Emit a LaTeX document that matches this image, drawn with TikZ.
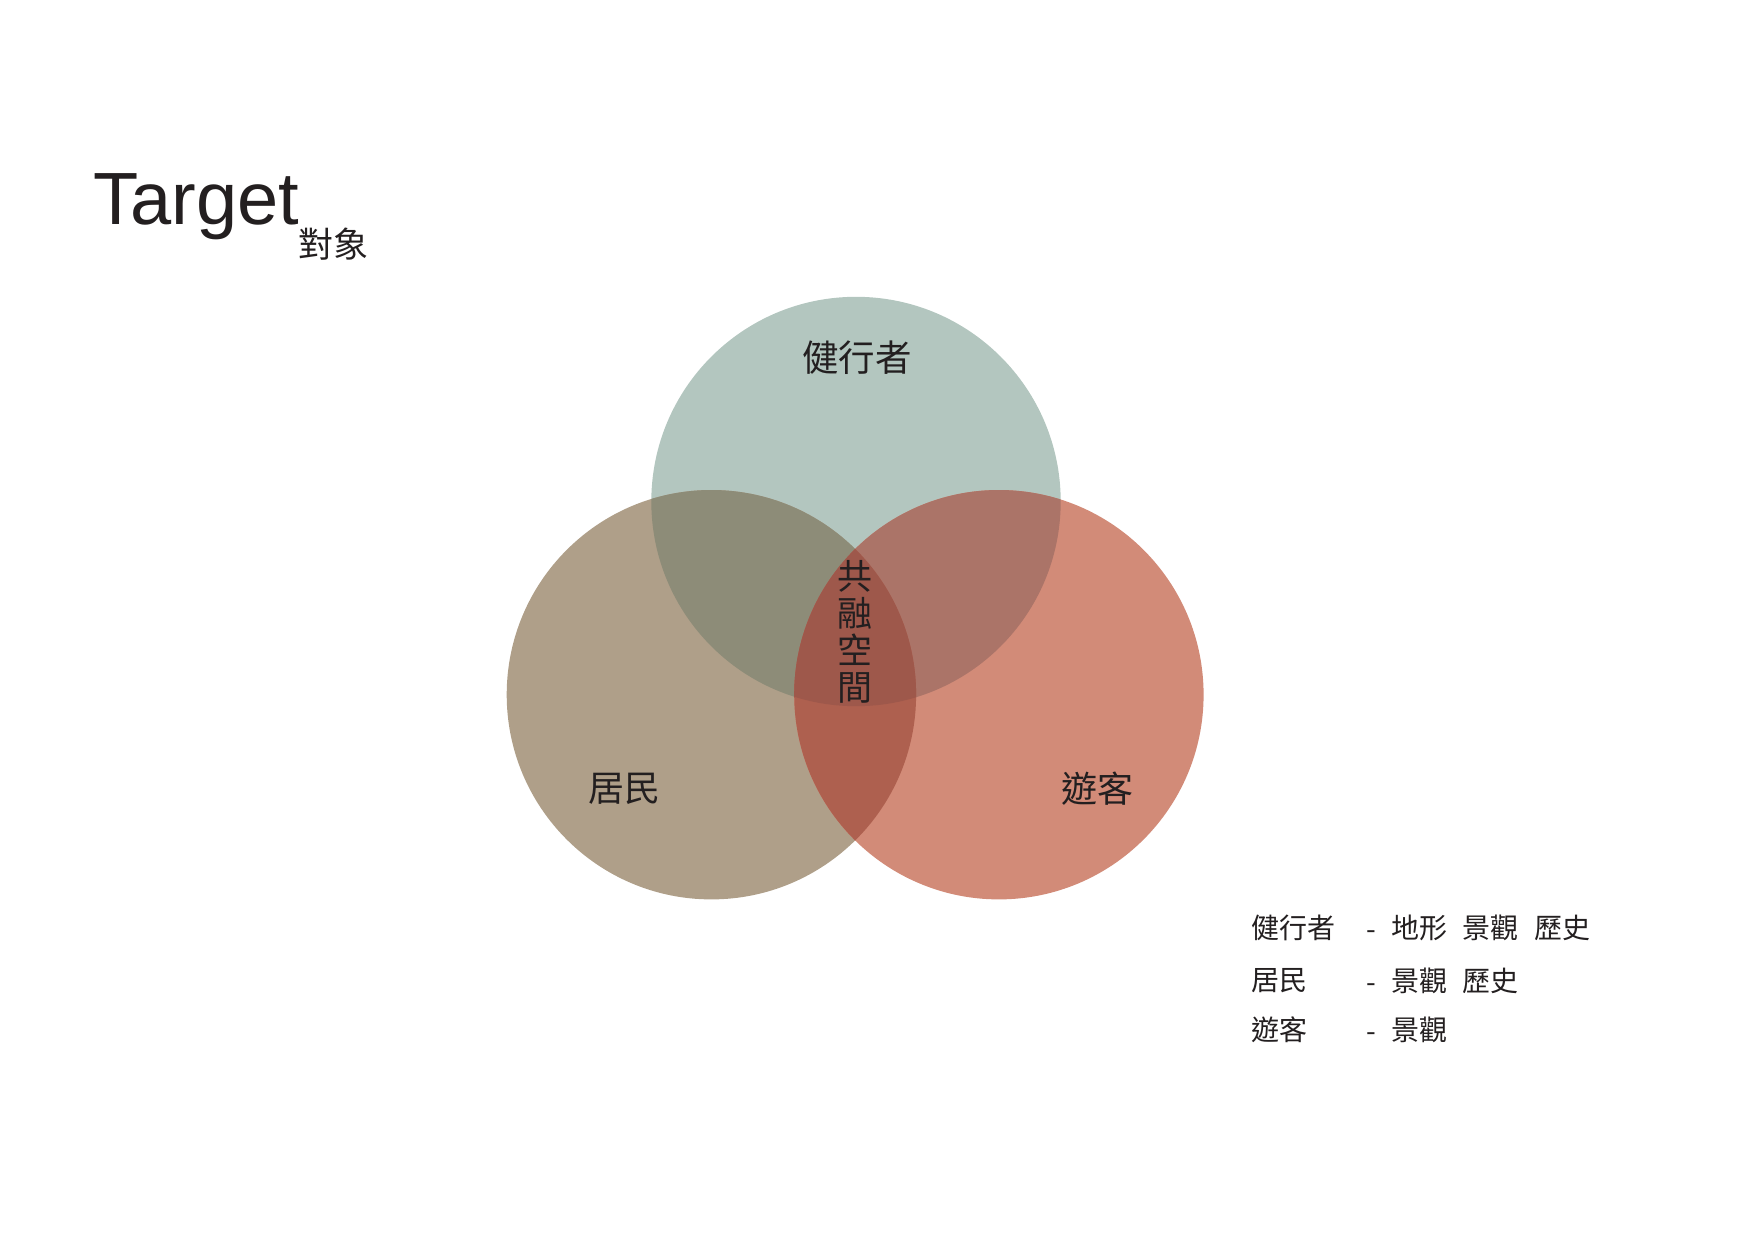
\documentclass[tikz,border=0pt]{standalone}
\usepackage{fontspec}
\setmainfont{Liberation Sans}
\newfontfamily\cjk{Noto Sans CJK TC}
\definecolor{ink}{HTML}{231F20}
\definecolor{cTop}{HTML}{B3C6BF}
\definecolor{cLeft}{HTML}{AF9F89}
\definecolor{cRight}{HTML}{D28B78}
\definecolor{cTL}{HTML}{8D8C78}
\definecolor{cTR}{HTML}{AB7468}
\definecolor{cLR}{HTML}{AE604F}
\definecolor{cTLR}{HTML}{9E584B}
\begin{document}
\begin{tikzpicture}[x=1pt,y=-1pt,
  lbl/.style={inner sep=0pt,text=ink,font=\cjk\fontsize{36.5}{40}\selectfont},
  leg/.style={inner sep=0pt,text=ink,anchor=west,font=\cjk\fontsize{28}{30}\selectfont}]
\useasboundingbox (0,0) rectangle (1754,1241);
\def\R{204.7}
\coordinate (cT) at (856,501.5);
\coordinate (cL) at (711.4,694.7);
\coordinate (cR) at (998.9,694.7);
\fill[cTop] (cT) circle (\R);
\fill[cLeft] (cL) circle (\R);
\fill[cRight] (cR) circle (\R);
\begin{scope}\clip (cT) circle (\R); \fill[cTL] (cL) circle (\R);\end{scope}
\begin{scope}\clip (cT) circle (\R); \fill[cTR] (cR) circle (\R);\end{scope}
\begin{scope}\clip (cL) circle (\R); \fill[cLR] (cR) circle (\R);\end{scope}
\begin{scope}\clip (cT) circle (\R); \clip (cL) circle (\R); \fill[cTLR] (cR) circle (\R);\end{scope}

\node[anchor=base west,inner sep=0pt,text=ink,font=\fontsize{74}{80}\selectfont] (title) at (93,225) {Target};
\node[inner sep=0pt,text=ink,font=\cjk\fontsize{35}{38}\selectfont] (sub) at (333,244) {對象};

\node[lbl] (walker) at (857,358) {健行者};
\node[lbl,font=\cjk\fontsize{36}{40}\selectfont] (resident) at (624,789) {居民};
\node[lbl,font=\cjk\fontsize{36}{40}\selectfont] (tourist) at (1097,789) {遊客};
\node[lbl,align=center,font=\cjk\fontsize{35}{37}\selectfont] (shared) at (855,632) {共\\融\\空\\間};

\node[leg] (k1) at (1251,928) {健行者};
\node[leg] (k2) at (1251,981) {居民};
\node[leg] (k3) at (1251,1030) {遊客};
\node[leg] (d1) at (1366,935) {-};
\node[leg] (d2) at (1366,988) {-};
\node[leg] (d3) at (1366,1037) {-};
\node[leg] (v1) at (1391,928) {地形\hspace{0.55em}景觀\hspace{0.55em}歷史};
\node[leg] (v2) at (1391,981) {景觀\hspace{0.55em}歷史};
\node[leg] (v3) at (1391,1030) {景觀};
\end{tikzpicture}
\end{document}
